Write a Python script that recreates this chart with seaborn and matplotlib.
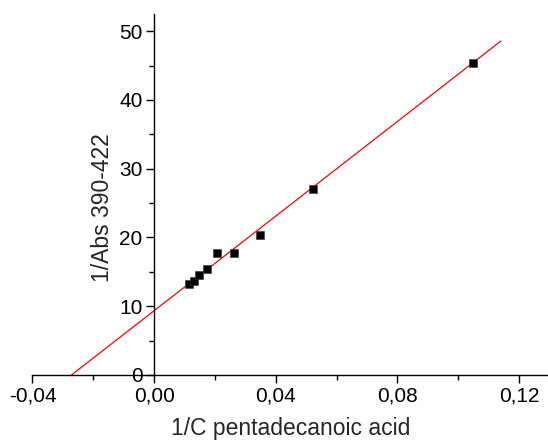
import numpy as np
import pandas as pd
import matplotlib
matplotlib.use("Agg")
import matplotlib.pyplot as plt
from matplotlib.ticker import MultipleLocator, FuncFormatter
import seaborn as sns

# Double-reciprocal data: 1/C pentadecanoic acid vs 1/Abs (390-422 nm)
inv_conc = [0.0115, 0.0130, 0.0148, 0.0173, 0.0208, 0.0261, 0.0348, 0.0523, 0.1048]
inv_abs = [13.2, 13.7, 14.5, 15.4, 17.8, 17.8, 20.4, 27.0, 45.4]

# Linear fit parameters and the range over which the fit line is drawn
fit_intercept = 9.35
fit_slope = 344.0
fit_x_range = [-0.0272, 0.114]

sns.set_style("ticks")
plt.rcParams["font.family"] = ["Liberation Sans", "DejaVu Sans"]

fig = plt.figure(figsize=(5.48, 4.41), dpi=100)
ax = fig.add_axes([0.0593, 0.1497, 0.9407, 0.8186])

df = pd.DataFrame({"x": inv_conc, "y": inv_abs})
fit_x = np.array(fit_x_range)
fit_df = pd.DataFrame({"x": fit_x, "y": fit_intercept + fit_slope * fit_x})

sns.lineplot(data=fit_df, x="x", y="y", color="red", linewidth=0.9, ax=ax, zorder=2)
sns.scatterplot(data=df, x="x", y="y", marker="s", s=36, color="black",
                edgecolor="#333333", linewidth=0.4, ax=ax, zorder=3)

ax.set_xlim(-0.04, 0.1295)
ax.set_ylim(0, 52.5)

ax.spines["top"].set_visible(False)
ax.spines["right"].set_visible(False)
ax.spines["left"].set_position(("data", 0))
for s in ("left", "bottom"):
    ax.spines[s].set_linewidth(1.0)
    ax.spines[s].set_color("black")

ax.xaxis.set_major_locator(MultipleLocator(0.04))
ax.xaxis.set_minor_locator(MultipleLocator(0.02))
ax.yaxis.set_major_locator(MultipleLocator(10))
ax.yaxis.set_minor_locator(MultipleLocator(5))
ax.xaxis.set_major_formatter(FuncFormatter(lambda v, p: f"{v:.2f}".replace(".", ",")))
ax.yaxis.set_major_formatter(FuncFormatter(lambda v, p: f"{v:.0f}"))

ax.tick_params(which="major", direction="out", length=5.8, width=1.0,
               labelsize=15, colors="black", pad=2.5)
ax.tick_params(which="minor", direction="out", length=3.5, width=1.0, colors="black")

ax.set_xlabel("1/C pentadecanoic acid", fontsize=16.5, labelpad=8)
ax.set_ylabel("1/Abs 390-422", fontsize=16.5, labelpad=4)
ax.yaxis.label.set_y(0.464)

fig.savefig("out.png", dpi=100)
